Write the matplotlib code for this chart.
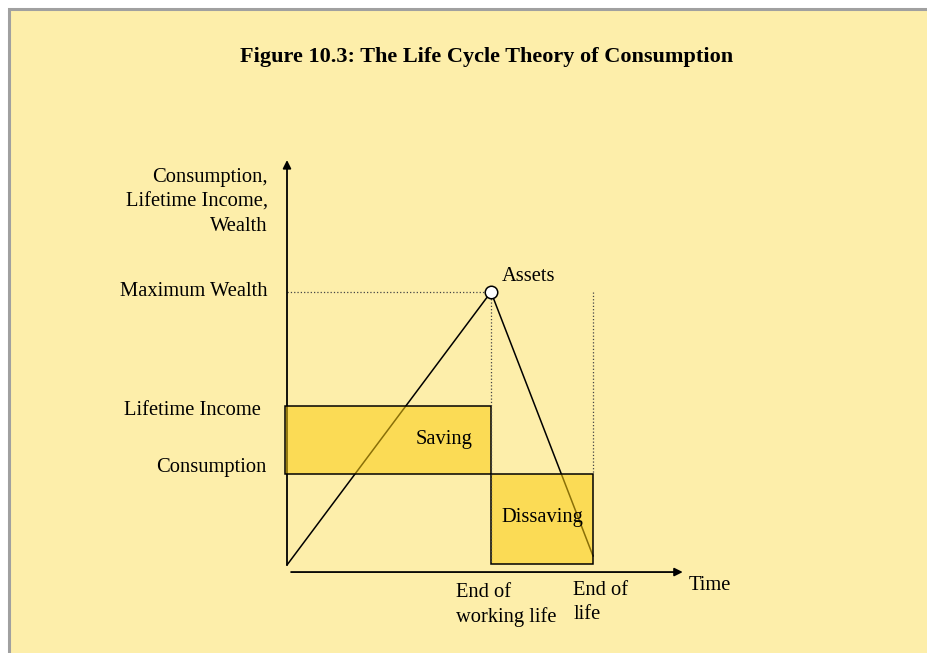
import matplotlib.pyplot as plt
from matplotlib.patches import Rectangle

# time (years) and levels in arbitrary units
time_points = [0, 40, 60]          # start, end of working life, end of life
consumption = 40
lifetime_income = 70
max_wealth = 120
wealth_values = [0, max_wealth, 4]  # assets over the life cycle

y_labels = ["Consumption,\nLifetime Income,\nWealth", "Maximum Wealth",
            "Lifetime Income", "Consumption"]
x_labels = ["End of\nworking life", "End of\nlife", "Time"]

plt.rcParams['font.family'] = ['Liberation Serif', 'DejaVu Serif']
FS = 14.8
BG = '#FDEEAA'
BOX = (0.984, 0.80, 0.06, 0.55)

fig = plt.figure(figsize=(9.28, 6.53), dpi=100, facecolor='white')

ax = fig.add_axes([0, 0, 1, 1])
ax.set_xlim(-287 / 5.1, (928 - 287) / 5.1)
ax.set_ylim(-88 / 2.275, 565 / 2.275)
ax.axis('off')

# panel with grey border
ax.add_patch(Rectangle((9 / 928, -0.01), 1.0, 1 - 9 / 653 + 0.01, transform=fig.transFigure,
                       facecolor=BG, edgecolor='#A0A0A0', linewidth=2.2, zorder=0,
                       clip_on=False))

ax.text(0.524, 1 - 57 / 653, "Figure 10.3: The Life Cycle Theory of Consumption",
        transform=fig.transFigure, ha='center', va='center', fontsize=16, fontweight='bold')

t0, t_work, t_life = time_points

# axes with arrows
ax.annotate("", xy=(0, 178), xytext=(0, 0),
            arrowprops=dict(arrowstyle='-|>', color='black', lw=1.3,
                            mutation_scale=12, shrinkA=0, shrinkB=0))
ax.annotate("", xy=(77.6, -3.1), xytext=(0.8, -3.1),
            arrowprops=dict(arrowstyle='-|>', color='black', lw=1.3,
                            mutation_scale=12, shrinkA=0, shrinkB=0))

# wealth path
ax.plot(time_points, wealth_values, color='black', lw=1.1, zorder=2)

# saving and dissaving boxes
ax.add_patch(Rectangle((t0 - 0.4, consumption), t_work - t0 + 0.4, lifetime_income - consumption,
                       facecolor=BOX, edgecolor='black', lw=1.1, zorder=3))
ax.add_patch(Rectangle((t_work, 0.4), t_life - t_work, consumption - 0.4,
                       facecolor=BOX, edgecolor='black', lw=1.1, zorder=3))

# dotted guides
ax.plot([t0, t_work], [max_wealth, max_wealth], color='#444444', lw=0.9, ls=':', zorder=2)
ax.plot([t_work, t_work], [max_wealth, 0.4], color='#444444', lw=0.9, ls=':', zorder=4)
ax.plot([t_life, t_life], [max_wealth, consumption], color='#444444', lw=0.9, ls=':', zorder=2)

ax.plot([t_work], [max_wealth], marker='o', ms=9, mfc='white', mec='black', mew=1.1, zorder=5)

# labels
ax.text(-3.8, 159.5, y_labels[0], ha='right', va='center', fontsize=FS, linespacing=1.37)
ax.text(-3.8, max_wealth, y_labels[1], ha='right', va='center', fontsize=FS)
ax.text(-5.1, lifetime_income - 2, y_labels[2], ha='right', va='center', fontsize=FS)
ax.text(-4.1, consumption + 3, y_labels[3], ha='right', va='center', fontsize=FS)
ax.text(42.2, 127, "Assets", ha='left', va='center', fontsize=FS)
ax.text(30.8, 55, "Saving", ha='center', va='center', fontsize=FS, zorder=6)
ax.text(50.1, 21, "Dissaving", ha='center', va='center', fontsize=FS, zorder=6)
ax.text(33.1, -17.5, x_labels[0], ha='left', va='center', fontsize=FS, linespacing=1.37)
ax.text(56.1, -16.5, x_labels[1], ha='left', va='center', fontsize=FS, linespacing=1.37)
ax.text(78.8, -9.2, x_labels[2], ha='left', va='center', fontsize=FS)

fig.savefig("out.png", dpi=100, facecolor='white')
